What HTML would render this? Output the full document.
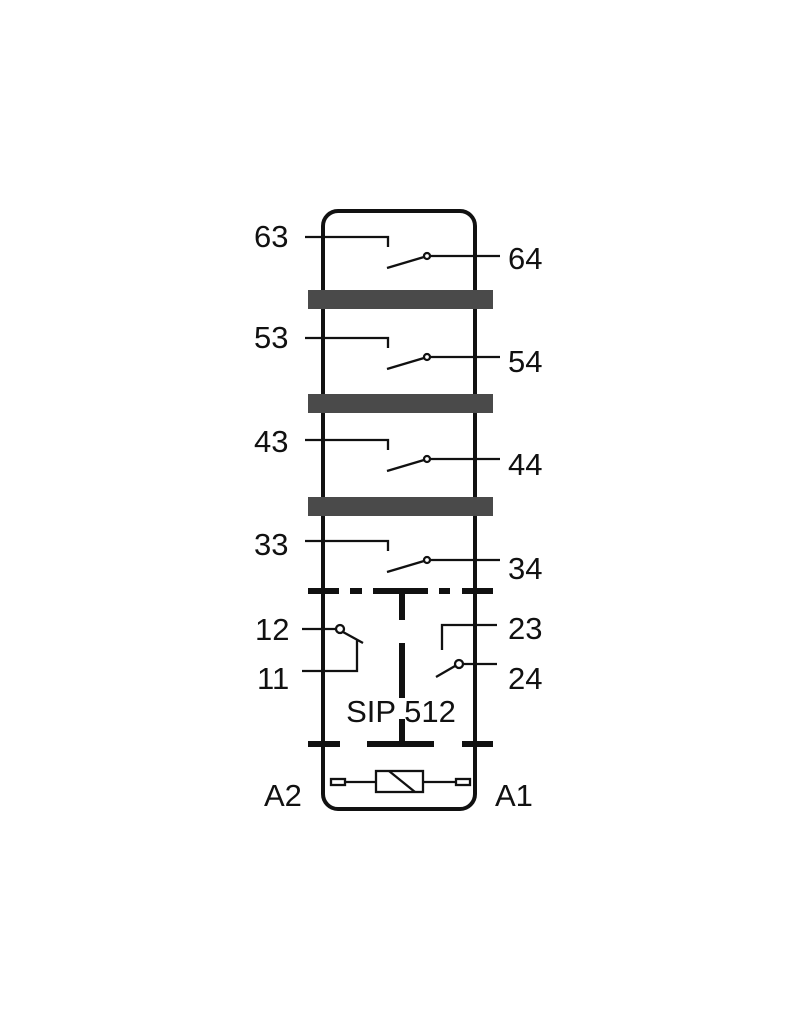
<!DOCTYPE html>
<html><head><style>body{margin:0;background:#fff}svg{display:block}</style></head>
<body>
<svg width="800" height="1024" viewBox="0 0 800 1024" xmlns="http://www.w3.org/2000/svg" font-family="Liberation Sans, sans-serif" font-size="31" fill="#111">
<rect x="323" y="211" width="152" height="598" rx="15" fill="none" stroke="#111" stroke-width="4"/>
<g fill="#4a4a4a">
<rect x="308" y="290" width="185" height="19"/>
<rect x="308" y="394" width="185" height="19"/>
<rect x="308" y="497" width="185" height="19"/>
</g>
<g stroke="#111" stroke-width="2.3" fill="none">
<g id="c"><path d="M305 237H388V247M387 268L424 257M430 256H500"/><circle cx="427" cy="256" r="3" fill="#fff"/></g>
<use href="#c" y="101"/><use href="#c" y="203"/><use href="#c" y="304"/>
</g>
<text x="254" y="247">63</text><text x="508" y="269">64</text>
<text x="254" y="348">53</text><text x="508" y="372">54</text>
<text x="254" y="452">43</text><text x="508" y="475">44</text>
<text x="254" y="555">33</text><text x="508" y="579">34</text>
<g fill="#111">
<rect x="308" y="588" width="31" height="6"/><rect x="350" y="588" width="12" height="6"/><rect x="373" y="588" width="55" height="6"/><rect x="439" y="588" width="11" height="6"/><rect x="462" y="588" width="31" height="6"/>
<rect x="399" y="591" width="6" height="29"/><rect x="399" y="643" width="6" height="55"/><rect x="399" y="719" width="6" height="25"/>
<rect x="308" y="741" width="32" height="6"/><rect x="367" y="741" width="67" height="6"/><rect x="462" y="741" width="31" height="6"/>
</g>
<g stroke="#111" stroke-width="2.3" fill="none">
<path d="M302 629H336M343 632L363 643M357 640V671H302"/>
<circle cx="340" cy="629" r="4" fill="#fff"/>
<path d="M497 625H442V650M436 677L455 666M463 664H497"/>
<circle cx="459" cy="664" r="4" fill="#fff"/>
<path d="M345 782H377M423 782H456"/>
<rect x="376" y="771" width="47" height="21"/>
<path d="M389 771L415 792"/>
<rect x="331" y="779" width="14" height="6"/><rect x="456" y="779" width="14" height="6"/>
</g>
<text x="255" y="640">12</text><text x="257" y="689">11</text>
<text x="508" y="639">23</text><text x="508" y="689">24</text>
<text x="264" y="806">A2</text><text x="495" y="806">A1</text>
<text x="401" y="722" text-anchor="middle" font-size="31">SIP 512</text>
</svg>
</body></html>
